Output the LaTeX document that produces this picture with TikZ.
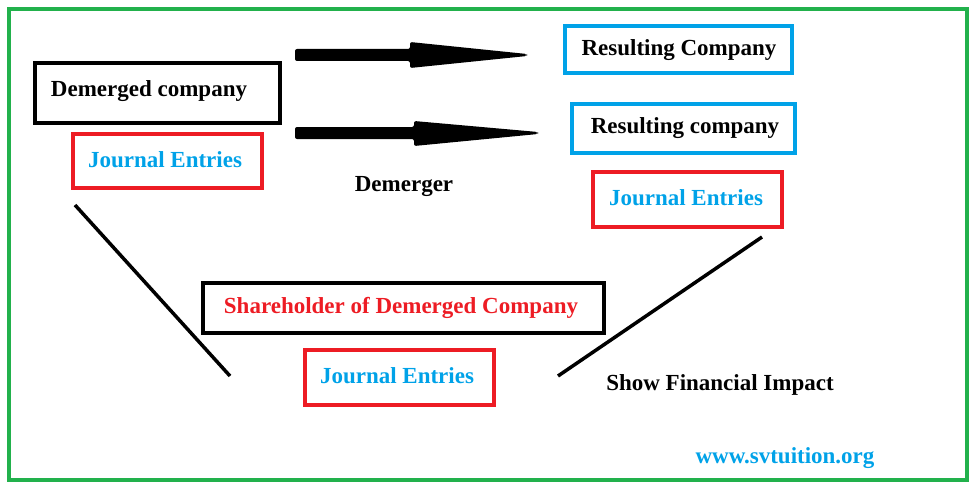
\documentclass[tikz,border=0pt]{standalone}
\usepackage{fontspec}
\setmainfont{Liberation Serif}
\definecolor{frameg}{RGB}{34,177,76}
\definecolor{txtblue}{RGB}{0,162,232}
\definecolor{boxred}{RGB}{237,28,36}
\begin{document}
\begin{tikzpicture}
[x=1pt,y=-1pt,
 every node/.style={font=\bfseries\fontsize{23}{26}\selectfont,inner sep=0pt,outer sep=0pt},
 blk/.style={draw=black,line width=4pt},
 red/.style={draw=boxred,line width=4pt},
 blu/.style={draw=txtblue,line width=4pt},
 fat/.style={fill=black,rounded corners=2pt}]

\useasboundingbox (0,0) rectangle (976,492);
\draw[frameg,line width=4pt] (9,9) rectangle (967,480);

% left
\draw[blk] (35,63) rectangle (280,123);
\node (Dco) at (149,91) {Demerged company};
\draw[red] (73,134) rectangle (262,188);
\node[txtblue] (DJe) at (165,160) {Journal Entries};

% arrows
\fill[fat] (295,49) -- (410,49) -- (410,42) -- (527,54) -- (527,56) -- (410,68) -- (410,61) -- (295,61) -- cycle;
\fill[fat] (295,127) -- (414,127) -- (414,121) -- (538,132) -- (538,134) -- (414,146) -- (414,139) -- (295,139) -- cycle;
\node (Dmg) at (404,187) {Demerger};

% right
\draw[blu] (565,26) rectangle (792,73);
\node (Rc1) at (679,50) {Resulting Company};
\draw[blu] (572,104) rectangle (795,153);
\node (Rc2) at (685,128) {Resulting company};
\draw[red] (593,172) rectangle (782,227);
\node[txtblue] (RJe) at (686,198) {Journal Entries};

% bottom
\draw[blk] (203,283) rectangle (604,333);
\node[boxred] (Shd) at (401,308) {Shareholder of Demerged Company};
\draw[red] (305,350) rectangle (494,405);
\node[txtblue] (SJe) at (397,376) {Journal Entries};
\coordinate (L1a) at (75,205); \coordinate (L1b) at (230,376);
\coordinate (L2a) at (558,376); \coordinate (L2b) at (762,237);
\draw[line width=3.5pt] (L1a) -- (L1b);
\draw[line width=3.5pt] (L2a) -- (L2b);
\node (Sfi) at (720,385) {Show Financial Impact};
\node[txtblue] (Web) at (785,458) {www.svtuition.org};

\end{tikzpicture}
\end{document}
